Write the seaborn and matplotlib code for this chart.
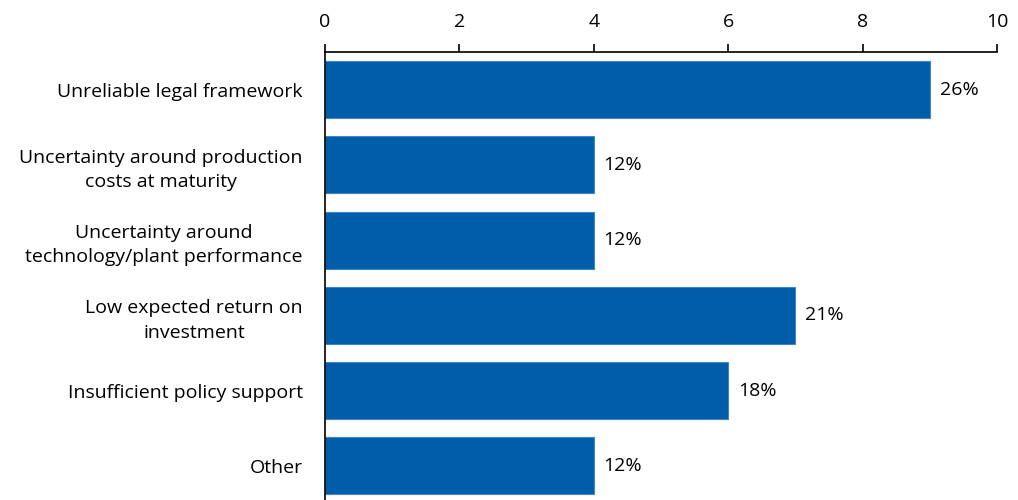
import matplotlib
matplotlib.use("Agg")
import matplotlib.pyplot as plt
import seaborn as sns
import pandas as pd

categories = [
    "Unreliable legal framework",
    "Uncertainty around production\ncosts at maturity",
    "Uncertainty around\ntechnology/plant performance",
    "Low expected return on\ninvestment",
    "Insufficient policy support",
    "Other",
]
counts = [9, 4, 4, 7, 6, 4]
share_labels = ["26%", "12%", "12%", "21%", "18%", "12%"]
x_ticks = [0, 2, 4, 6, 8, 10]

sns.set_style("white")
plt.rcParams["font.family"] = ["Open Sans", "DejaVu Sans"]
plt.rcParams["text.color"] = "black"
plt.rcParams["xtick.color"] = "black"
plt.rcParams["ytick.color"] = "black"

df = pd.DataFrame({"category": categories, "count": counts})

fig = plt.figure(figsize=(10.18, 5.0), dpi=100)
ax = fig.add_axes([0.3193, -0.007, 0.6601, 0.903])

sns.barplot(data=df, x="count", y="category", orient="h", color="#005DA9",
            saturation=1, width=0.76, edgecolor="#3f86c4", linewidth=0.8, ax=ax)

ax.set_xlim(0, 10)
ax.set_ylim(5.5, -0.5)
ax.set_xticks(x_ticks)
ax.xaxis.tick_top()
ax.tick_params(axis="x", direction="out", length=6, width=1.2, color="black",
               labelsize=14, pad=9, top=True, bottom=False)
ax.tick_params(axis="y", length=0, labelsize=14, pad=16)
for lbl in ax.get_yticklabels():
    lbl.set_multialignment("center")
    lbl.set_linespacing(1.45)
ax.set_xlabel("")
ax.set_ylabel("")

for side in ["right", "bottom"]:
    ax.spines[side].set_visible(False)
for side in ["top", "left"]:
    ax.spines[side].set_visible(True)
    ax.spines[side].set_color("black")
    ax.spines[side].set_linewidth(1.2)

for i, (v, s) in enumerate(zip(counts, share_labels)):
    ax.annotate(s, xy=(v, i), xytext=(7, 0), textcoords="offset points",
                va="center", ha="left", fontsize=14)

fig.savefig("out.png", dpi=100)
